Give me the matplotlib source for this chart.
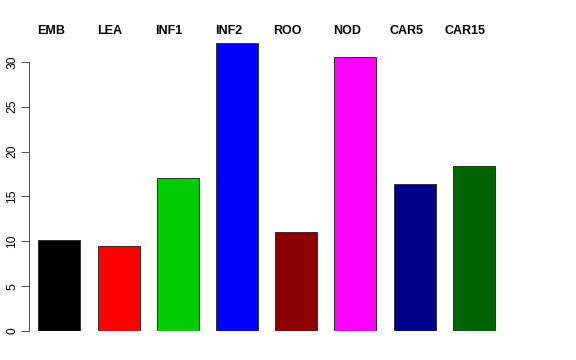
import matplotlib
matplotlib.use("Agg")
import matplotlib.pyplot as plt
import matplotlib.transforms as mtransforms

categories = ["EMB", "LEA", "INF1", "INF2", "ROO", "NOD", "CAR5", "CAR15"]
values = [10.1, 9.5, 17.1, 32.1, 11.0, 30.5, 16.4, 18.4]
colors = ["#000000", "#FF0000", "#00CD00", "#0000FF", "#8B0000", "#FF00FF", "#00008B", "#006400"]
yticks = [0, 5, 10, 15, 20, 25, 30]

plt.rcParams['font.family'] = ['Liberation Sans', 'DejaVu Sans']

W, H = 576, 360
fig = plt.figure(figsize=(W / 72, H / 72), dpi=72)
left_px, bottom_px, right_px, top_px = 29.3, 331.0, 520.0, 20.0
ax = fig.add_axes([left_px / W, 1 - bottom_px / H, (right_px - left_px) / W, (bottom_px - top_px) / H])

unit = 59.2
x0 = -(59.3 - left_px) / unit
ax.set_xlim(x0, x0 + (right_px - left_px) / unit)
ax.set_ylim(0, (bottom_px - top_px) / 8.97)

xs = list(range(len(categories)))
ax.bar(xs, values, width=42 / unit, color=colors, edgecolor="#333333", linewidth=1.0, align="center")

for s in ["top", "right", "bottom"]:
    ax.spines[s].set_visible(False)
ax.spines["left"].set_bounds(0, 30)
ax.spines["left"].set_color("#555555")
ax.spines["left"].set_linewidth(1.0)
ax.set_xticks([])
ax.set_yticks(yticks)
ax.set_yticklabels([str(t) for t in yticks], rotation=90, va="center", fontsize=12)
ax.tick_params(axis="y", direction="out", length=8, width=1, color="#555555", pad=3)

trans = mtransforms.blended_transform_factory(ax.transData, fig.transFigure)
label_shift = -8.5 / unit
for x, c in zip(xs, categories):
    ax.text(x + label_shift, 1 - 30.7 / H, c, transform=trans,
            ha="center", va="center", fontsize=12.5, fontweight="bold")

fig.savefig("out.png", dpi=72)
